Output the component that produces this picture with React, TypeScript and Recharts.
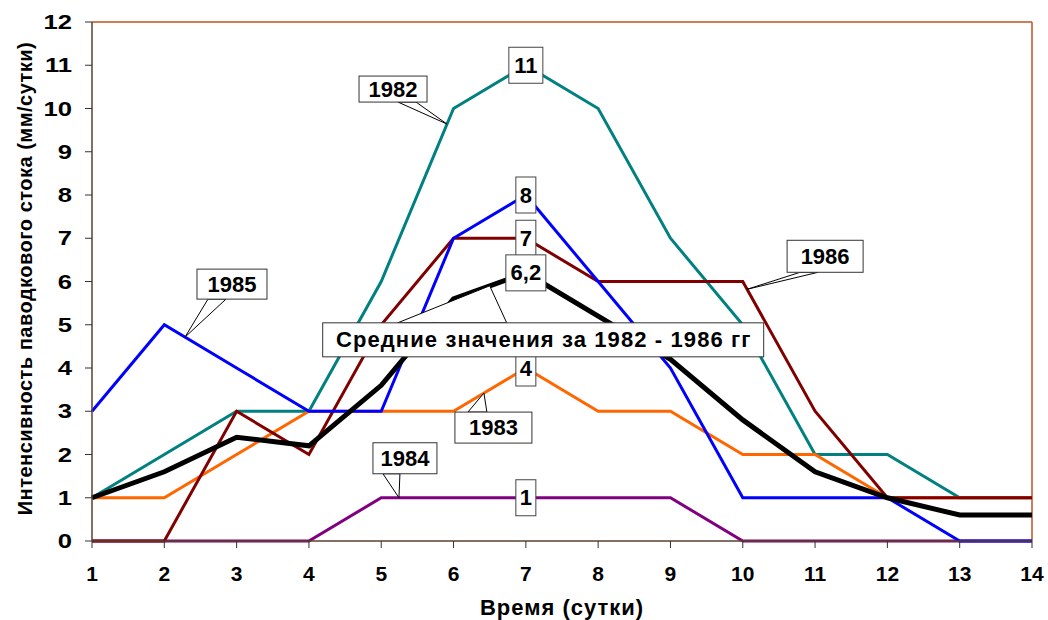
import React from "react";
import { LineChart, Line, XAxis, YAxis, ReferenceDot, ReferenceLine } from "recharts";

// ---- data ----
const days = [1, 2, 3, 4, 5, 6, 7, 8, 9, 10, 11, 12, 13, 14];
const s1982 = [1, 2, 3, 3, 6, 10, 11, 10, 7, 5, 2, 2, 1, 1];
const s1983 = [1, 1, 2, 3, 3, 3, 4, 3, 3, 2, 2, 1, 1, 1];
const s1984 = [0, 0, 0, 0, 1, 1, 1, 1, 1, 0, 0, 0, 0, 0];
const s1985 = [3, 5, 4, 3, 3, 7, 8, 6, 4, 1, 1, 1, 0, 0];
const s1986 = [0, 0, 3, 2, 5, 7, 7, 6, 6, 6, 3, 1, 1, 1];
const sMean = [1, 1.6, 2.4, 2.2, 3.6, 5.6, 6.2, 5.2, 4.2, 2.8, 1.6, 1, 0.6, 0.6];

const yTicks = [0, 1, 2, 3, 4, 5, 6, 7, 8, 9, 10, 11, 12];
const xTitle = "Время (сутки)";
const yTitle = "Интенсивность паводкового стока (мм/сутки)";

// peak value labels (day 7)
const peakDay = 7;
const peakValues = [11, 8, 7, 6.2, 4, 1];
const peakTexts = ["11", "8", "7", "6,2", "4", "1"];

// series callouts: anchor points on the lines
const calloutTexts = ["1982", "1983", "1984", "1985", "1986", "Средние значения за 1982 - 1986 гг"];
const calloutX = [5.91, 6.42, 5.245, 2.286, 10.06, 6.5];
const calloutY = [9.64, 3.42, 1, 4.714, 5.82, 5.9];

// ---- layout (pixels, relative to anchor) ----
const peakBoxW = [34, 20, 20, 40, 20, 20];
const calloutLayout = [
  { left: -88, top: -48, w: 68, h: 26, b1: -49, b2: -31, ls: 0 },
  { left: -29, top: 19, w: 77, h: 31, b1: -16, b2: 3, ls: 0 },
  { left: -26, top: -55, w: 64, h: 31, b1: -16, b2: 1, ls: 0 },
  { left: 12, top: -68, w: 70, h: 30, b1: 23, b2: 41, ls: 0 },
  { left: 40, top: -49, w: 76, h: 32, b1: 53, b2: 71, ls: 0 },
  { left: -167, top: 37, w: 441, h: 34, b1: -92, b2: 17, ls: 1.1 },
];

const FONT = "'Liberation Sans', Arial, sans-serif";

const data = days.map((d, i) => ({
  day: d,
  y1982: s1982[i],
  y1983: s1983[i],
  y1984: s1984[i],
  y1985: s1985[i],
  y1986: s1986[i],
  mean: sMean[i],
}));

const Callout = (props: any) => {
  const { cx, cy, lay, text } = props;
  if (cx == null || cy == null) return null;
  const bx = cx + lay.left;
  const by = cy + lay.top;
  const baseY = lay.top < 0 ? by + lay.h : by;
  return (
    <g>
      <polygon
        points={`${cx},${cy} ${cx + lay.b1},${baseY} ${cx + lay.b2},${baseY}`}
        fill="#fff"
        stroke="#000"
        strokeWidth={1}
      />
      <rect x={bx} y={by} width={lay.w} height={lay.h} fill="#fff" stroke="#333" strokeWidth={1} />
      <text
        x={bx + lay.w / 2 + lay.ls / 2}
        y={by + lay.h / 2}
        textAnchor="middle"
        dominantBaseline="central"
        fontFamily={FONT}
        fontWeight="bold"
        fontSize={22}
        letterSpacing={lay.ls}
        fill="#000"
      >
        {text}
      </text>
    </g>
  );
};

const PeakBox = (props: any) => {
  const { cx, cy, w, text } = props;
  if (cx == null || cy == null) return null;
  const h = 36;
  return (
    <g>
      <rect x={cx - w / 2} y={cy - h / 2} width={w} height={h} fill="#fff" stroke="#444" strokeWidth={1} />
      <text
        x={cx}
        y={cy}
        textAnchor="middle"
        dominantBaseline="central"
        fontFamily={FONT}
        fontWeight="bold"
        fontSize={22}
        fill="#000"
      >
        {text}
      </text>
    </g>
  );
};

const YTick = (p: any) => {
  const { x, y, payload } = p;
  return (
    <text
      x={x}
      y={y}
      textAnchor="end"
      dominantBaseline="central"
      transform={`translate(${x},${y}) scale(1.22,1) translate(${-x},${-y})`}
      fontFamily={FONT}
      fontWeight="bold"
      fontSize={21}
      fill="#000"
    >
      {payload.value}
    </text>
  );
};

export default function App() {
  const peakEls = peakValues.map((v, i) => (
    <ReferenceDot
      key={"p" + i}
      x={peakDay}
      y={v}
      r={0}
      ifOverflow="visible"
      zIndex={2500}
      shape={(p: any) => <PeakBox cx={p.cx} cy={p.cy} w={peakBoxW[i]} text={peakTexts[i]} />}
    />
  ));
  const calloutEls = calloutTexts.map((t, i) => (
    <ReferenceDot
      key={"c" + i}
      x={calloutX[i]}
      y={calloutY[i]}
      r={0}
      ifOverflow="visible"
      zIndex={2600}
      shape={(p: any) => <Callout cx={p.cx} cy={p.cy} lay={calloutLayout[i]} text={t} />}
    />
  ));

  return (
    <div style={{ position: "absolute", left: 0, top: 0, width: 1048, height: 620, background: "#fff" }}>
      <LineChart width={1048} height={620} data={data} margin={{ top: 22, right: 16, left: 0, bottom: 0 }}>
        <ReferenceLine y={12} stroke="#c0501e" strokeWidth={1.5} />
        <ReferenceLine x={14} stroke="#c0501e" strokeWidth={1.5} />
        <XAxis
          dataKey="day"
          type="number"
          domain={[1, 14]}
          ticks={days}
          interval={0}
          height={79}
          tickSize={7}
          tickMargin={18}
          axisLine={{ stroke: "#5a4030", strokeWidth: 1.5 }}
          tickLine={{ stroke: "#333" }}
          tick={{ fill: "#000", fontFamily: FONT, fontWeight: "bold", fontSize: 21 }}
          label={(p: any) => {
            const vb = p.viewBox || {};
            const cx = (vb.x ?? 92) + (vb.width ?? 940) / 2;
            return (
              <text
                x={cx}
                y={607}
                textAnchor="middle"
                dominantBaseline="central"
                fontFamily={FONT}
                fontWeight="bold"
                fontSize={22}
                letterSpacing={1}
                fill="#000"
              >
                {xTitle}
              </text>
            );
          }}
        />
        <YAxis
          type="number"
          domain={[0, 12]}
          ticks={yTicks}
          interval={0}
          width={92}
          tickSize={7}
          tickMargin={13}
          axisLine={{ stroke: "#5a4030", strokeWidth: 1.5 }}
          tickLine={{ stroke: "#333" }}
          tick={<YTick />}
          label={(p: any) => {
            const vb = p.viewBox || {};
            const cy = (vb.y ?? 22) + (vb.height ?? 519) / 2 - 3;
            return (
              <text
                x={25}
                y={cy}
                transform={`rotate(-90, 25, ${cy})`}
                textAnchor="middle"
                dominantBaseline="central"
                fontFamily={FONT}
                fontWeight="bold"
                fontSize={20}
                letterSpacing={0.5}
                fill="#000"
              >
                {yTitle}
              </text>
            );
          }}
        />
        <Line dataKey="y1982" stroke="#008080" strokeWidth={3} dot={false} isAnimationActive={false} />
        <Line dataKey="y1983" stroke="#ff6600" strokeWidth={3} dot={false} isAnimationActive={false} />
        <Line dataKey="y1984" stroke="#800080" strokeWidth={3} dot={false} isAnimationActive={false} />
        <Line dataKey="y1986" stroke="#800000" strokeWidth={3} dot={false} isAnimationActive={false} />
        <Line dataKey="y1985" stroke="#0000ff" strokeWidth={3} dot={false} isAnimationActive={false} />
        <Line dataKey="mean" stroke="#000" strokeWidth={5} dot={false} isAnimationActive={false} />
        {peakEls}
        {calloutEls}
      </LineChart>
    </div>
  );
}
